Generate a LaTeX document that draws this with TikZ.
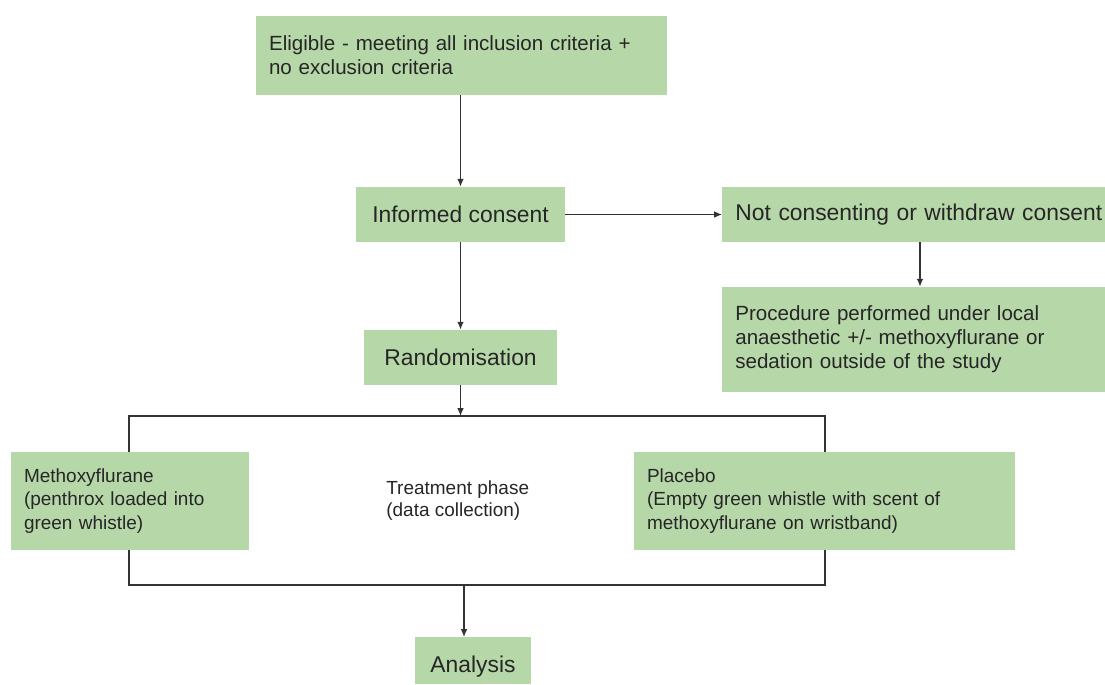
\documentclass[tikz,border=0pt]{standalone}
\usepackage{fontspec}
\setmainfont{Liberation Sans}
\usetikzlibrary{arrows.meta}
\definecolor{boxgreen}{HTML}{B6D7A8}
\definecolor{linegray}{HTML}{333333}
\tikzset{
  stage/.style={fill=boxgreen, text=black!85, inner xsep=0.26cm, inner ysep=0pt, align=left},
  flow/.style={draw=linegray, line width=0.7pt, -{Latex[length=4.5pt,width=3.8pt]}},
  frame/.style={draw=linegray, line width=0.7pt},
  bigtxt/.style={font=\fontsize{13}{15}\selectfont},
  midtxt/.style={font=\fontsize{11.7}{13.7}\selectfont},
  smalltxt/.style={font=\fontsize{10.8}{13.2}\selectfont}
}

\begin{document}
\begin{tikzpicture}[x=0.02cm,y=-0.02cm]
  \useasboundingbox (0,0) rectangle (1105,684);

  \coordinate (E) at (461.5,55.5);
  \coordinate (C) at (460.5,214.5);
  \coordinate (N) at (722,214.5);
  \coordinate (P) at (722,339.5);
  \coordinate (R) at (460.5,357.5);
  \coordinate (M) at (130,501);
  \coordinate (B) at (824.5,501);
  \coordinate (T) at (386,501);
  \coordinate (A) at (473,637);
  \coordinate (tl) at (129,416);
  \coordinate (br) at (825,585);
  \coordinate (out) at (464,585);
  \coordinate (down) at (920,242);

  % treatment frame
  \draw[frame] (tl) rectangle (br);

  \node[stage, midtxt, text width=7.7cm, minimum height=1.58cm] (elig) at (E)
    {Eligible - meeting all inclusion criteria +\\no exclusion criteria};
  \node[stage, bigtxt, align=center, minimum width=4.18cm, minimum height=1.1cm] (cons) at (C) {Informed consent};
  \node[stage, bigtxt, anchor=west, text width=7.45cm, minimum height=1.1cm] (notc) at (N)
    {Not consenting or withdraw consent};
  \node[stage, midtxt, anchor=west, text width=7.45cm, minimum height=2.1cm] (proc) at (P)
    {Procedure performed under local\\anaesthetic +/- methoxyflurane or\\sedation outside of the study};
  \node[stage, bigtxt, align=center, minimum width=3.86cm, minimum height=1.1cm] (rand) at (R) {Randomisation};
  \node[stage, smalltxt, text width=4.24cm, minimum height=1.96cm] (meth) at (M)
    {Methoxyflurane\\(penthrox loaded into\\green whistle)};
  \node[stage, smalltxt, text width=7.1cm, minimum height=1.96cm] (plac) at (B)
    {Placebo\\(Empty green whistle with scent of\\methoxyflurane on wristband)};
  \node[anchor=west, inner sep=0pt, align=left, text=black!85, font=\fontsize{10.8}{12.5}\selectfont] (treat) at (T)
    {Treatment phase\\(data collection)};
  \node[stage, bigtxt, align=center, anchor=north, minimum width=2.32cm, text height=0.7cm, text depth=0.24cm] (ana) at (A) {Analysis};

  \draw[flow] (cons.north |- elig.south) -- (cons.north);
  \draw[flow] (cons.east) -- (notc.west);
  \draw[flow] (down) -- (down |- proc.north);
  \draw[flow] (cons.south) -- (rand.north);
  \draw[flow] (rand.south) -- (rand.south |- tl);
  \draw[flow] (out) -- (out |- ana.north);
\end{tikzpicture}
\end{document}
